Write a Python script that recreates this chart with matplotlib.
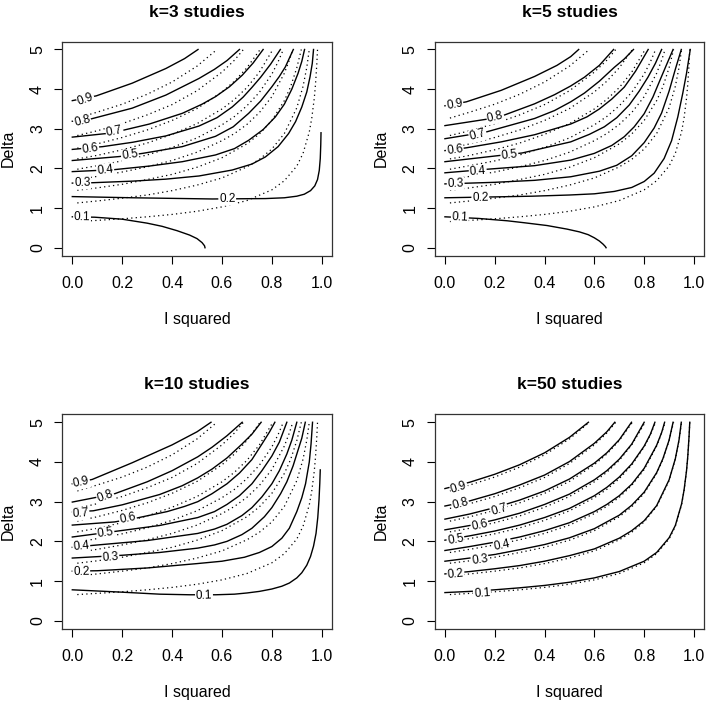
import numpy as np
import matplotlib.pyplot as plt

plt.rcParams['font.family'] = ['Liberation Sans', 'DejaVu Sans']

levels = ['0.9', '0.8', '0.7', '0.6', '0.5', '0.4', '0.3', '0.2', '0.1']

# dotted contours (same in every panel), read as (I squared, Delta)
dotted = [
    [(0.02, 3.27), (0.1, 3.42), (0.2, 3.62), (0.3, 3.87), (0.4, 4.18), (0.5, 4.58), (0.58, 5.0)],
    [(0.02, 2.83), (0.1, 2.95), (0.2, 3.13), (0.3, 3.35), (0.4, 3.61), (0.5, 3.96), (0.6, 4.43),
     (0.65, 4.73), (0.686, 5.0)],
    [(0.02, 2.51), (0.1, 2.62), (0.2, 2.78), (0.3, 2.97), (0.4, 3.21), (0.5, 3.51), (0.6, 3.93),
     (0.65, 4.20), (0.7, 4.54), (0.753, 5.0)],
    [(0.02, 2.24), (0.1, 2.33), (0.2, 2.47), (0.3, 2.64), (0.4, 2.86), (0.5, 3.13), (0.6, 3.50),
     (0.65, 3.74), (0.7, 4.04), (0.75, 4.43), (0.804, 5.0)],
    [(0.02, 1.98), (0.1, 2.07), (0.2, 2.19), (0.3, 2.34), (0.4, 2.53), (0.5, 2.77), (0.6, 3.10),
     (0.65, 3.31), (0.7, 3.58), (0.75, 3.92), (0.8, 4.38), (0.825, 4.69), (0.846, 5.0)],
    [(0.02, 1.72), (0.1, 1.80), (0.2, 1.91), (0.3, 2.04), (0.4, 2.20), (0.5, 2.41), (0.6, 2.70),
     (0.65, 2.88), (0.7, 3.11), (0.75, 3.41), (0.8, 3.81), (0.85, 4.40), (0.87, 4.73), (0.884, 5.0)],
    [(0.02, 1.45), (0.1, 1.51), (0.2, 1.60), (0.3, 1.72), (0.4, 1.85), (0.5, 2.03), (0.6, 2.27),
     (0.7, 2.62), (0.75, 2.87), (0.8, 3.21), (0.85, 3.71), (0.875, 4.06), (0.9, 4.54), (0.918, 5.0)],
    [(0.02, 1.13), (0.1, 1.18), (0.2, 1.25), (0.3, 1.33), (0.4, 1.44), (0.5, 1.58), (0.6, 1.76),
     (0.7, 2.04), (0.75, 2.23), (0.8, 2.49), (0.85, 2.88), (0.9, 3.53), (0.925, 4.07), (0.94, 4.55),
     (0.95, 5.0)],
    [(0.02, 0.66), (0.1, 0.69), (0.2, 0.73), (0.3, 0.78), (0.4, 0.84), (0.5, 0.92), (0.6, 1.03),
     (0.7, 1.19), (0.8, 1.46), (0.85, 1.69), (0.9, 2.06), (0.925, 2.38), (0.95, 2.92), (0.96, 3.27),
     (0.97, 3.77), (0.975, 4.13), (0.98, 4.62), (0.983, 5.0)],
]

# solid contours, k=3
k3_solid = [
    [(0, 3.71), (0.096, 3.83), (0.24, 4.15), (0.375, 4.52), (0.45, 4.77), (0.504, 5.0)],
    [(0, 3.19), (0.076, 3.25), (0.24, 3.52), (0.375, 3.85), (0.508, 4.27), (0.57, 4.5),
     (0.62, 4.72), (0.67, 5.0)],
    [(0, 2.79), (0.136, 2.88), (0.202, 2.96), (0.309, 3.12), (0.441, 3.39), (0.52, 3.62),
     (0.574, 3.81), (0.63, 4.06), (0.681, 4.35), (0.725, 4.66), (0.765, 5.0)],
    [(0, 2.48), (0.122, 2.55), (0.242, 2.66), (0.375, 2.82), (0.508, 3.07), (0.58, 3.28),
     (0.641, 3.55), (0.685, 3.8), (0.721, 4.05), (0.755, 4.3), (0.795, 4.63), (0.834, 5.0)],
    [(0, 2.20), (0.189, 2.30), (0.282, 2.38), (0.441, 2.55), (0.574, 2.81), (0.645, 3.05),
     (0.707, 3.39), (0.755, 3.7), (0.80, 4.06), (0.83, 4.32), (0.854, 4.56), (0.886, 5.0)],
    [(0, 1.92), (0.169, 1.97), (0.309, 2.06), (0.441, 2.17), (0.574, 2.34), (0.65, 2.5),
     (0.707, 2.71), (0.765, 2.98), (0.814, 3.30), (0.85, 3.62), (0.88, 4.0), (0.905, 4.4),
     (0.92, 4.7), (0.931, 5.0)],
    [(0, 1.63), (0.082, 1.64), (0.242, 1.68), (0.375, 1.73), (0.508, 1.81), (0.641, 1.96),
     (0.72, 2.11), (0.774, 2.29), (0.825, 2.55), (0.867, 2.88), (0.895, 3.18), (0.92, 3.55),
     (0.94, 3.93), (0.953, 4.31), (0.962, 4.65), (0.967, 5.0)],
    [(0, 1.29), (0.242, 1.26), (0.561, 1.23), (0.774, 1.24), (0.85, 1.26), (0.9, 1.3),
     (0.93, 1.35), (0.955, 1.44), (0.972, 1.56), (0.983, 1.72), (0.99, 1.95), (0.994, 2.25),
     (0.996, 2.6), (0.997, 2.90)],
    [(0, 0.78), (0.09, 0.77), (0.2, 0.72), (0.3, 0.62), (0.36, 0.54), (0.42, 0.43), (0.47, 0.32),
     (0.5, 0.23), (0.52, 0.13), (0.53, 0.05), (0.532, 0.0)],
]
k3_labels = [(0.053, 3.75), (0.04, 3.19), (0.169, 2.94), (0.072, 2.50), (0.231, 2.33),
             (0.132, 1.96), (0.04, 1.64), (0.621, 1.23), (0.039, 0.78)]

# solid contours, k=5
k5_solid = [
    [(0, 3.58), (0.086, 3.68), (0.226, 3.97), (0.36, 4.32), (0.45, 4.6), (0.505, 4.82), (0.537, 5.0)],
    [(0, 3.08), (0.166, 3.24), (0.24, 3.35), (0.36, 3.63), (0.44, 3.86), (0.505, 4.08),
     (0.56, 4.3), (0.62, 4.6), (0.677, 5.0)],
    [(0, 2.75), (0.166, 2.92), (0.36, 3.26), (0.44, 3.46), (0.505, 3.68), (0.56, 3.9),
     (0.62, 4.2), (0.68, 4.55), (0.72, 4.76), (0.757, 5.0)],
    [(0, 2.45), (0.086, 2.52), (0.226, 2.67), (0.36, 2.85), (0.505, 3.12), (0.57, 3.3),
     (0.62, 3.5), (0.67, 3.75), (0.72, 4.05), (0.765, 4.45), (0.816, 5.0)],
    [(0, 2.17), (0.21, 2.32), (0.31, 2.39), (0.505, 2.67), (0.58, 2.86), (0.64, 3.05),
     (0.69, 3.28), (0.74, 3.6), (0.78, 3.95), (0.815, 4.3), (0.845, 4.65), (0.87, 5.0)],
    [(0, 1.89), (0.17, 1.98), (0.36, 2.07), (0.505, 2.21), (0.6, 2.38), (0.67, 2.58),
     (0.72, 2.8), (0.76, 3.05), (0.8, 3.38), (0.835, 3.8), (0.865, 4.25), (0.89, 4.62), (0.916, 5.0)],
    [(0, 1.61), (0.2, 1.65), (0.36, 1.70), (0.505, 1.79), (0.62, 1.93), (0.69, 2.08),
     (0.75, 2.32), (0.8, 2.65), (0.84, 3.02), (0.87, 3.4), (0.9, 3.95), (0.925, 4.5), (0.949, 5.0)],
    [(0, 1.26), (0.18, 1.28), (0.35, 1.3), (0.5, 1.33), (0.6, 1.36), (0.68, 1.42), (0.75, 1.52),
     (0.8, 1.67), (0.84, 1.88), (0.88, 2.25), (0.91, 2.7), (0.935, 3.3), (0.955, 3.9), (0.97, 4.4),
     (0.985, 5.0)],
    [(0, 0.78), (0.133, 0.74), (0.25, 0.68), (0.319, 0.63), (0.41, 0.56), (0.49, 0.47),
     (0.54, 0.4), (0.575, 0.33), (0.6, 0.25), (0.62, 0.17), (0.635, 0.09), (0.644, 0.03),
     (0.647, 0.0)],
]
k5_labels = [(0.039, 3.60), (0.202, 3.30), (0.132, 2.84), (0.04, 2.46), (0.259, 2.34),
             (0.132, 1.92), (0.043, 1.62), (0.142, 1.27), (0.06, 0.76)]

# solid contours, k=10
k10_solid = [
    [(0, 3.45), (0.08, 3.56), (0.24, 3.98), (0.4, 4.43), (0.5, 4.76), (0.556, 5.0)],
    [(0, 2.99), (0.17, 3.2), (0.3, 3.5), (0.4, 3.78), (0.503, 4.13), (0.56, 4.37), (0.62, 4.66),
     (0.681, 5.0)],
    [(0, 2.74), (0.084, 2.77), (0.2, 2.92), (0.35, 3.18), (0.44, 3.4), (0.503, 3.6), (0.56, 3.82),
     (0.62, 4.1), (0.68, 4.45), (0.72, 4.7), (0.757, 5.0)],
    [(0, 2.41), (0.17, 2.49), (0.26, 2.59), (0.38, 2.75), (0.45, 2.88), (0.503, 3.0), (0.56, 3.2),
     (0.62, 3.45), (0.67, 3.72), (0.72, 4.06), (0.76, 4.45), (0.79, 4.75), (0.812, 5.0)],
    [(0, 2.11), (0.17, 2.25), (0.35, 2.4), (0.503, 2.6), (0.57, 2.75), (0.62, 2.93), (0.67, 3.15),
     (0.72, 3.45), (0.76, 3.78), (0.8, 4.15), (0.83, 4.5), (0.86, 5.0)],
    [(0, 1.85), (0.084, 1.9), (0.3, 2.02), (0.503, 2.2), (0.57, 2.31), (0.62, 2.43), (0.68, 2.65),
     (0.72, 2.85), (0.76, 3.12), (0.8, 3.45), (0.83, 3.78), (0.86, 4.2), (0.88, 4.55), (0.9, 5.0)],
    [(0, 1.58), (0.2, 1.65), (0.35, 1.72), (0.503, 1.83), (0.57, 1.91), (0.62, 2.0), (0.68, 2.17),
     (0.72, 2.33), (0.77, 2.62), (0.8, 2.85), (0.835, 3.2), (0.86, 3.5), (0.885, 3.9), (0.9, 4.2),
     (0.92, 4.6), (0.934, 5.0)],
    [(0, 1.25), (0.1, 1.26), (0.3, 1.33), (0.5, 1.44), (0.6, 1.5), (0.69, 1.6), (0.75, 1.72),
     (0.8, 1.87), (0.84, 2.08), (0.87, 2.33), (0.9, 2.75), (0.92, 3.1), (0.935, 3.45), (0.95, 4.0),
     (0.957, 4.45), (0.963, 5.0)],
    [(0, 0.78), (0.2, 0.72), (0.35, 0.67), (0.47, 0.655), (0.575, 0.655), (0.65, 0.67), (0.7, 0.7),
     (0.75, 0.74), (0.8, 0.8), (0.84, 0.87), (0.87, 0.95), (0.9, 1.08), (0.92, 1.21), (0.94, 1.4),
     (0.955, 1.62), (0.967, 1.88), (0.977, 2.2), (0.984, 2.6), (0.989, 3.05), (0.992, 3.45),
     (0.994, 3.8)],
]
k10_labels = [(0.036, 3.48), (0.133, 3.13), (0.033, 2.69), (0.222, 2.58), (0.133, 2.21),
              (0.036, 1.87), (0.153, 1.60), (0.036, 1.22), (0.528, 0.63)]

# solid contours, k=50
k50_solid = [
    [(0, 3.33), (0.1, 3.49), (0.2, 3.69), (0.3, 3.93), (0.4, 4.23), (0.5, 4.62), (0.576, 5.0)],
    [(0, 2.89), (0.1, 3.02), (0.2, 3.20), (0.3, 3.42), (0.4, 3.67), (0.5, 4.01), (0.6, 4.47),
     (0.65, 4.76), (0.682, 5.0)],
    [(0, 2.56), (0.1, 2.69), (0.2, 2.85), (0.3, 3.04), (0.4, 3.27), (0.5, 3.57), (0.6, 3.97),
     (0.65, 4.23), (0.7, 4.56), (0.749, 5.0)],
    [(0, 2.29), (0.1, 2.40), (0.2, 2.54), (0.3, 2.71), (0.4, 2.93), (0.5, 3.19), (0.6, 3.55),
     (0.65, 3.78), (0.7, 4.07), (0.75, 4.45), (0.800, 5.0)],
    [(0, 2.03), (0.1, 2.14), (0.2, 2.26), (0.3, 2.41), (0.4, 2.60), (0.5, 2.83), (0.6, 3.15),
     (0.65, 3.36), (0.7, 3.62), (0.75, 3.95), (0.8, 4.40), (0.825, 4.70), (0.843, 5.0)],
    [(0, 1.77), (0.1, 1.87), (0.2, 1.98), (0.3, 2.11), (0.4, 2.27), (0.5, 2.47), (0.6, 2.75),
     (0.65, 2.93), (0.7, 3.15), (0.75, 3.44), (0.8, 3.84), (0.85, 4.42), (0.87, 4.74), (0.882, 5.0)],
    [(0, 1.50), (0.1, 1.58), (0.2, 1.67), (0.3, 1.79), (0.4, 1.92), (0.5, 2.09), (0.6, 2.32),
     (0.7, 2.66), (0.75, 2.91), (0.8, 3.24), (0.85, 3.73), (0.875, 4.08), (0.9, 4.55), (0.916, 5.0)],
    [(0, 1.18), (0.1, 1.24), (0.2, 1.31), (0.3, 1.39), (0.4, 1.50), (0.5, 1.64), (0.6, 1.81),
     (0.7, 2.08), (0.75, 2.27), (0.8, 2.52), (0.85, 2.90), (0.9, 3.55), (0.925, 4.08), (0.94, 4.56),
     (0.949, 5.0)],
    [(0, 0.71), (0.1, 0.74), (0.2, 0.78), (0.3, 0.83), (0.4, 0.89), (0.5, 0.97), (0.6, 1.08),
     (0.7, 1.24), (0.8, 1.50), (0.85, 1.72), (0.9, 2.09), (0.925, 2.40), (0.95, 2.94), (0.96, 3.29),
     (0.97, 3.78), (0.975, 4.14), (0.98, 4.63), (0.983, 5.0)],
]
k50_labels = [(0.056, 3.36), (0.062, 2.94), (0.218, 2.79), (0.14, 2.40), (0.043, 2.04),
              (0.231, 1.91), (0.14, 1.54), (0.043, 1.16), (0.149, 0.68)]

panels = [
    ("k=3 studies", k3_solid, k3_labels, [0.0879, 0.6358, 0.380, 0.305]),
    ("k=5 studies", k5_solid, k5_labels, [0.6135, 0.6358, 0.3794, 0.305]),
    ("k=10 studies", k10_solid, k10_labels, [0.0879, 0.1044, 0.380, 0.3054]),
    ("k=50 studies", k50_solid, k50_labels, [0.6135, 0.1044, 0.3794, 0.3054]),
]

fig = plt.figure(figsize=(7.09, 7.02), dpi=100)

for title, solid, labpos, rect in panels:
    ax = fig.add_axes(rect)
    ax.set_xlim(-0.04, 1.04)
    ax.set_ylim(-0.2, 5.2)

    for c in dotted:
        xs, ys = zip(*c)
        ax.plot(xs, ys, color="k", lw=0.9, ls=(0, (1, 2.6)))

    for c in solid:
        xs, ys = zip(*c)
        ax.plot(xs, ys, color="k", lw=1.0, solid_joinstyle="round")

    # contour labels, turned along the line like R does
    for lev, (lx, ly), c in zip(levels, labpos, solid):
        pts = ax.transData.transform(np.array(c))
        p = ax.transData.transform((lx, ly))
        i = int(np.argmin(np.abs(pts[:, 0] - p[0])))
        j = i + 1 if i + 1 < len(pts) else i - 1
        a, b = (pts[i], pts[j]) if j > i else (pts[j], pts[i])
        ang = np.degrees(np.arctan2(b[1] - a[1], b[0] - a[0]))
        ax.text(lx, ly, lev, fontsize=8.5, ha="center", va="center",
                rotation=ang, rotation_mode="anchor", zorder=5,
                bbox=dict(fc="white", ec="none", pad=0.5))

    ax.set_title(title, fontsize=12.5, fontweight="bold", pad=18)
    ax.set_xlabel("I squared", fontsize=11.5, labelpad=15)
    ax.set_ylabel("Delta", fontsize=11.5, labelpad=10)
    ax.set_xticks([0.0, 0.2, 0.4, 0.6, 0.8, 1.0])
    ax.set_xticklabels(["0.0", "0.2", "0.4", "0.6", "0.8", "1.0"])
    ax.set_yticks([0, 1, 2, 3, 4, 5])
    ax.set_yticklabels(["0", "1", "2", "3", "4", "5"], rotation=90, va="center")
    ax.tick_params(length=5.5, width=0.8, labelsize=11.5)
    ax.tick_params(axis="x", pad=9)
    ax.tick_params(axis="y", pad=7)
    for s in ax.spines.values():
        s.set_linewidth(0.9)
        s.set_color("#333333")

fig.savefig("out.png", dpi=100)
